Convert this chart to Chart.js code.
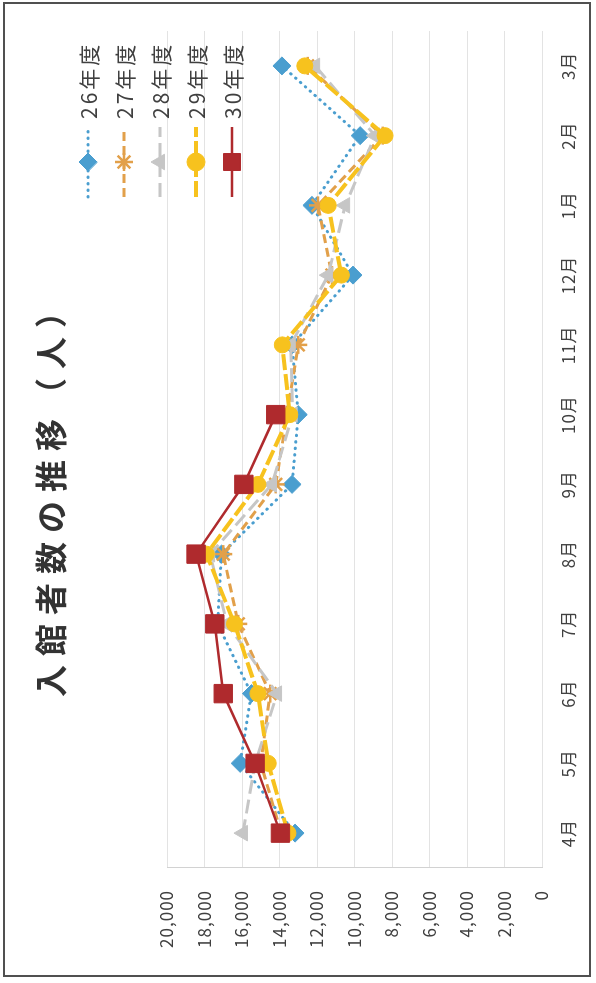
<!DOCTYPE html>
<html lang="ja">
<head>
<meta charset="utf-8">
<title>入館者数の推移</title>
<script src="https://cdn.jsdelivr.net/npm/chart.js@4.4.1/dist/chart.umd.min.js"></script>
<style>
  html, body { margin: 0; padding: 0; background: #ffffff; }
  body { width: 596px; height: 983px; position: relative; overflow: hidden; }
  /* the chart is laid out landscape and turned a quarter turn onto the portrait page */
  #wrap {
    position: absolute; left: 0; top: 0;
    width: 983px; height: 596px;
    transform-origin: 0 0;
    transform: translate(0, 983px) rotate(-90deg);
  }
  #frame {
    position: absolute; left: 3px; top: 2px;
    width: 584px; height: 971px;
    border: 2px solid #505050;
    pointer-events: none;
  }
</style>
</head>
<body>
<div id="wrap"><canvas id="chart" width="983" height="596"></canvas></div>
<div id="frame"></div>
<script>
// 月ごとの入館者数（人）
const months = ['4月', '5月', '6月', '7月', '8月', '9月', '10月', '11月', '12月', '1月', '2月', '3月'];
const visitorsH26 = [13170, 16100, 15500, 17300, 17100, 13330, 13000, 13330, 10080, 12270, 9700, 13870];
const visitorsH27 = [13900, 15000, 14500, 16200, 17000, 14200, 13600, 13000, 11200, 11950, 8500, 12500];
const visitorsH28 = [15950, 15300, 14130, 16800, 17700, 14400, 13300, 13400, 11400, 10500, 8900, 12100];
const visitorsH29 = [13550, 14600, 15150, 16400, 17900, 15150, 13450, 13850, 10700, 11400, 8370, 12650];
const visitorsH30 = [13950, 15300, 17000, 17450, 18450, 15900, 14200, null, null, null, null, null];
const seriesLabels = ['26年度', '27年度', '28年度', '29年度', '30年度'];
const valueTicks = [0, 2000, 4000, 6000, 8000, 10000, 12000, 14000, 16000, 18000, 20000];
const chartTitle = '入館者数の推移（人）';

const FONT = '"Noto Sans CJK JP", "Noto Sans", sans-serif';

// line look for each year
const looks = [
  { color: '#4A9ECF', dash: [0.5, 6], cap: 'round', width: 3,   point: 'rectRot',  radius: 9,  order: 4 },
  { color: '#E2A04A', dash: [9, 5],   cap: 'butt',  width: 3,   point: 'star',     radius: 9,  order: 3 },
  { color: '#C6C6C6', dash: [14, 6],  cap: 'butt',  width: 3,   point: 'triangle', radius: 9,  order: 2 },
  { color: '#F7C21E', dash: [16, 4],  cap: 'butt',  width: 4,   point: 'circle',   radius: 8,  order: 1 },
  { color: '#AF2A2D', dash: [],       cap: 'butt',  width: 2.5, point: 'rect',     radius: 13, order: 0 }
];
const seriesData = [visitorsH26, visitorsH27, visitorsH28, visitorsH29, visitorsH30];

const datasets = seriesData.map((data, i) => {
  const s = looks[i];
  return {
    label: seriesLabels[i],
    data: data,
    order: s.order,
    borderColor: s.color,
    backgroundColor: s.color,
    borderWidth: s.width,
    borderDash: s.dash,
    borderCapStyle: s.cap,
    pointStyle: s.point,
    pointRadius: s.radius,
    pointBackgroundColor: s.color,
    pointBorderColor: s.color,
    pointBorderWidth: s.point === 'star' ? 2.5 : 1,
    tension: 0,
    spanGaps: false,
    fill: false
  };
});

// title and legend drawn with spaced lettering
const decorations = {
  id: 'decorations',
  beforeDraw(chart) {
    chart.ctx.letterSpacing = '1px';
  },
  afterDraw(chart) {
    const ctx = chart.ctx;
    ctx.save();
    ctx.letterSpacing = '9px';
    ctx.font = 'bold 32px ' + FONT;
    ctx.fillStyle = '#333333';
    ctx.textAlign = 'center';
    ctx.textBaseline = 'middle';
    ctx.fillText(chartTitle, 491, 51);
    ctx.restore();

    // legend block, one row per year
    chart.data.datasets.forEach((ds, i) => {
      const s = looks[i];
      const y = 88 + 36 * i;
      ctx.save();
      ctx.strokeStyle = s.color;
      ctx.lineWidth = s.width;
      ctx.lineCap = s.cap;
      ctx.setLineDash(s.dash);
      ctx.beginPath();
      ctx.moveTo(786, y);
      ctx.lineTo(856, y);
      ctx.stroke();
      ctx.setLineDash([]);
      ctx.fillStyle = s.color;
      ctx.strokeStyle = s.color;
      ctx.lineWidth = s.point === 'star' ? 2.5 : 1;
      Chart.helpers.drawPoint(ctx, {
        pointStyle: s.point,
        radius: s.point === 'rect' ? 12 : 9,
        rotation: 0,
        borderWidth: ctx.lineWidth
      }, 821, y);
      ctx.letterSpacing = '3px';
      ctx.font = '21px ' + FONT;
      ctx.fillStyle = '#404040';
      ctx.textAlign = 'left';
      ctx.textBaseline = 'middle';
      ctx.fillText(ds.label, 864, y + 1);
      ctx.restore();
    });
    ctx.letterSpacing = '0px';
  }
};

new Chart(document.getElementById('chart'), {
  type: 'line',
  data: { labels: months, datasets: datasets },
  options: {
    responsive: false,
    animation: false,
    devicePixelRatio: 1,
    layout: { padding: { left: 0, right: 31, top: 167, bottom: 0 } },
    plugins: {
      legend: { display: false },
      title: { display: false },
      tooltip: { enabled: false }
    },
    scales: {
      x: {
        type: 'category',
        offset: true,
        grid: { display: false, drawTicks: false },
        border: { display: false },
        ticks: {
          autoSkip: false,
          maxRotation: 0,
          padding: 16,
          color: '#404040',
          font: { family: FONT, size: 17 }
        },
        afterFit(scale) { scale.height = 54; }
      },
      y: {
        min: valueTicks[0],
        max: valueTicks[valueTicks.length - 1],
        afterBuildTicks(scale) { scale.ticks = valueTicks.map(v => ({ value: v })); },
        grid: { color: '#E3E3E3', lineWidth: 1, drawTicks: false },
        border: { display: true, color: '#D2D2D2' },
        ticks: {
          padding: 22,
          color: '#404040',
          font: { family: FONT, size: 17 },
          callback: v => v.toLocaleString('en-US')
        },
        afterFit(scale) { scale.width = 115; }
      }
    }
  },
  plugins: [decorations]
});
</script>
</body>
</html>
